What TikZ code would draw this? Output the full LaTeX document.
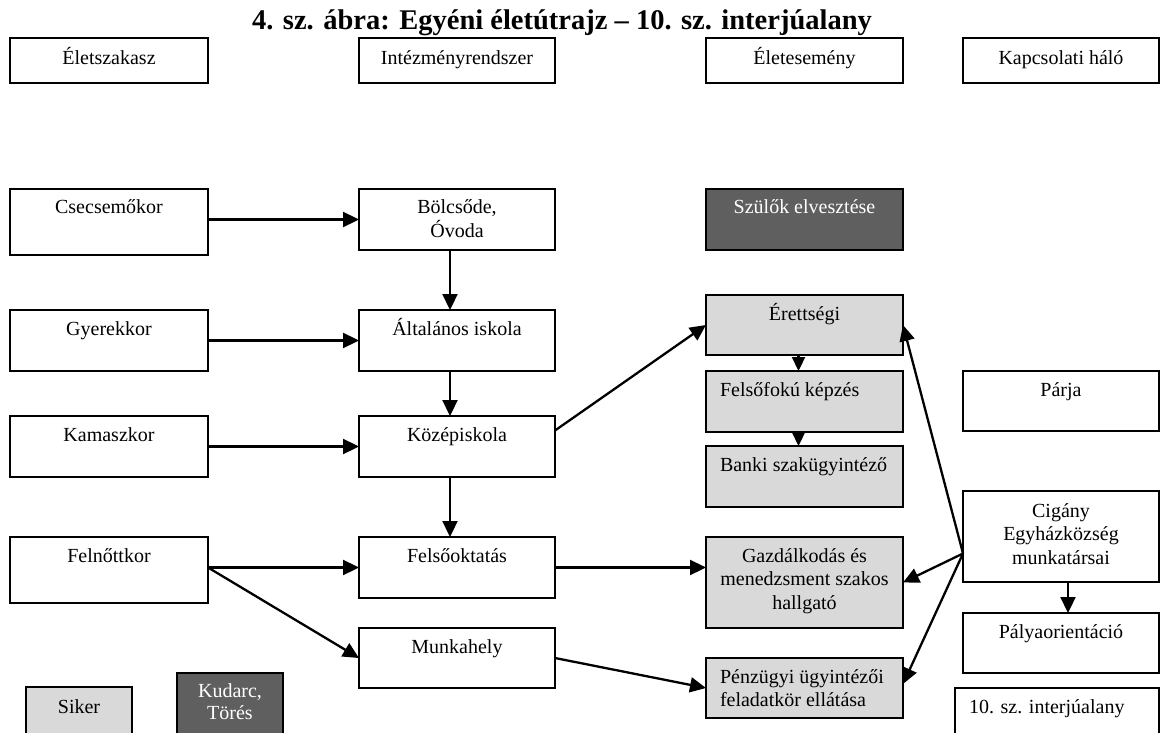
\documentclass[tikz,border=0pt]{standalone}
\usepackage{fontspec}
\setmainfont{Liberation Serif}
\usetikzlibrary{arrows.meta,calc}
\definecolor{lightbox}{HTML}{D9D9D9}
\definecolor{darkbox}{HTML}{5F5F5F}
\tikzset{
  x=1pt, y=-1pt,
  boxsty/.style={draw=black, line width=1.9pt, fill=white, rectangle, inner sep=0pt, outer sep=0pt},
  succ/.style={fill=lightbox},
  fail/.style={fill=darkbox},
  txt/.style={inner sep=0pt, outer sep=0pt, font=\fontsize{20}{23.5}\selectfont},
  arr/.style={line width=2.3pt, -{Triangle[length=16pt,width=15pt]}},
  sarr/.style={line width=2.3pt, -{Triangle[length=14pt,width=13pt]}},
}
% #1 name, #2 x1, #3 y1, #4 x2, #5 y2, #6 box style, #7 text format, #8 text, #9 baseline offset
\newcommand\bx[9]{%
  \node[boxsty,#6,minimum width=#4pt-#2pt,minimum height=#5pt-#3pt] (#1) at ({(#2+#4)/2},{(#3+#5)/2}) {};
  \node[txt,anchor=base] (#1t) at ({(#2+#4)/2},{#3+#9}) {\parbox[t]{\dimexpr#4pt-#2pt-8pt\relax}{#7#8}};
}
\newcommand\cfmt{\centering}
\newcommand\lfmt{\raggedright\leftskip=10pt\relax}
\newcommand\wfmt{\centering\leavevmode\color{white}}
\newcommand\kfmt{\centering\baselineskip=22pt\leavevmode\color{white}}
\begin{document}
\begin{tikzpicture}
\useasboundingbox[fill=white] (0,0) rectangle (1160,733);
\node[anchor=base, inner sep=0pt, font=\bfseries\fontsize{28.5}{30}\selectfont] (title) at (562,30) {4. sz. ábra: Egyéni életútrajz – 10. sz. interjúalany};

% headers
\bx{h1}{10}{38}{208}{83}{}{\cfmt}{Életszakasz}{27}
\bx{h2}{359}{38}{555}{83}{}{\cfmt}{Intézményrendszer}{27}
\bx{h3}{706}{38}{903}{83}{}{\cfmt}{Életesemény}{27}
\bx{h4}{963}{38}{1159}{83}{}{\cfmt}{Kapcsolati háló}{27}

% column 1
\bx{csec}{10}{189}{208}{255}{}{\cfmt}{Csecsemőkor}{25}
\bx{gyer}{10}{310}{208}{371}{}{\cfmt}{Gyerekkor}{25}
\bx{kama}{10}{416}{208}{477}{}{\cfmt}{Kamaszkor}{25}
\bx{feln}{10}{537}{208}{603}{}{\cfmt}{Felnőttkor}{25}

% column 2
\bx{bolc}{359}{189}{555}{250}{}{\cfmt}{Bölcsőde,\\Óvoda}{25}
\bx{alt}{359}{310}{555}{371}{}{\cfmt}{Általános iskola}{25}
\bx{koz}{359}{416}{555}{477}{}{\cfmt}{Középiskola}{25}
\bx{felso}{359}{537}{555}{598}{}{\cfmt}{Felsőoktatás}{25}
\bx{munka}{359}{628}{555}{688}{}{\cfmt}{Munkahely}{25}

% column 3
\bx{szul}{706}{189}{903}{250}{fail}{\wfmt}{Szülők elvesztése}{25}
\bx{eret}{706}{295}{903}{355}{succ}{\cfmt}{Érettségi}{25}
\bx{fkep}{706}{371}{903}{432}{succ}{\lfmt}{Felsőfokú képzés}{25}
\bx{bank}{706}{446}{903}{507}{succ}{\lfmt}{Banki szakügyintéző}{25}
\bx{gazd}{706}{537}{903}{628}{succ}{\cfmt}{Gazdálkodás és\\menedzsment szakos\\hallgató}{25}
\bx{penz}{706}{658}{903}{718}{succ}{\lfmt}{Pénzügyi ügyintézői\\feladatkör ellátása}{25}

% column 4
\bx{parj}{963}{371}{1159}{431}{}{\cfmt}{Párja}{25}
\bx{cig}{963}{491}{1159}{582}{}{\cfmt}{Cigány\\Egyházközség\\munkatársai}{26}
\bx{paly}{963}{613}{1159}{673}{}{\cfmt}{Pályaorientáció}{25}
\bx{inter}{955}{688}{1159}{750}{}{\lfmt}{10. sz. interjúalany}{25}

% legend
\bx{siker}{26}{687}{132}{750}{succ}{\cfmt}{Siker}{26}
\bx{kud}{177}{673}{283}{750}{fail}{\kfmt}{Kudarc,\\Törés}{24}

% connectors
\draw[arr] (csec.east |- bolc.west) -- (bolc.west);
\draw[arr] (gyer.east) -- (alt.west);
\draw[arr] (kama.east) -- (koz.west);
\coordinate (fstart) at (feln.east |- felso.west);
\draw[arr] (fstart) -- (felso.west);
\draw[arr] (fstart) -- (munka.west);

\draw[arr] ($(bolc.south)+(-7,0)$) -- ($(alt.north)+(-7,0)$);
\draw[arr] ($(alt.south)+(-7,0)$) -- ($(koz.north)+(-7,0)$);
\draw[arr] ($(koz.south)+(-7,0)$) -- ($(felso.north)+(-7,0)$);

\draw[arr] ($(koz.east)+(0,-16)$) -- (eret.west);
\draw[arr] (felso.east) -- (felso.east -| gazd.west);
\draw[arr] (munka.east) -- (penz.west);

\draw[sarr] ($(eret.south)+(-6,0)$) -- ($(fkep.north)+(-6,0)$);
\draw[sarr] ($(fkep.south)+(-6,0)$) -- ($(bank.north)+(-6,0)$);

\coordinate (cigs) at ($(cig.west)+(0,17)$);
\draw[arr] (cigs) -- (eret.east);
\draw[arr] (cigs) -- (gazd.east);
\draw[arr] (cigs) -- ($(penz.east)+(0,-4)$);
\draw[arr] ($(cig.south)+(7,0)$) -- ($(paly.north)+(7,0)$);
\end{tikzpicture}
\end{document}
